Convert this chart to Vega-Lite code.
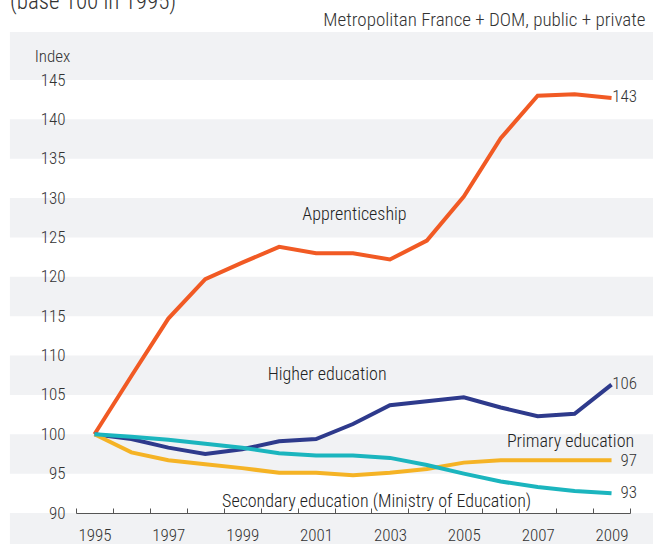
{
  "$schema": "https://vega.github.io/schema/vega-lite/v6.json",
  "width": 554,
  "height": 433,
  "autosize": {"type": "none"},
  "padding": {"left": 76, "top": 80, "right": 23, "bottom": 31},
  "background": "white",
  "config": {
    "view": {"stroke": null},
    "font": "Roboto Condensed, DejaVu Sans Condensed, Roboto, sans-serif",
    "text": {"font": "Roboto Condensed, DejaVu Sans Condensed, Roboto, sans-serif", "fontWeight": 300},
    "axis": {"labelFont": "Roboto Condensed, DejaVu Sans Condensed, Roboto, sans-serif", "titleFont": "Roboto Condensed, DejaVu Sans Condensed, Roboto, sans-serif", "labelFontWeight": 300, "titleFontWeight": 300},
    "title": {"font": "Roboto Condensed, DejaVu Sans Condensed, Roboto, sans-serif"}
  },
  "title": {
    "text": "(base 100 in 1995)",
    "anchor": "start",
    "frame": "group",
    "dx": -66,
    "dy": 22,
    "baseline": "alphabetic",
    "fontSize": 23,
    "fontWeight": 300,
    "color": "#333333",
    "offset": 0
  },
  "datasets": {
    "bands": [
      {"lo": 86, "hi": 90},
      {"lo": 95, "hi": 100},
      {"lo": 105, "hi": 110},
      {"lo": 115, "hi": 120},
      {"lo": 125, "hi": 130},
      {"lo": 135, "hi": 140},
      {"lo": 145, "hi": 151.1}
    ],
    "series": [
      {"series": "Apprenticeship", "year": 1995, "value": 100},
      {"series": "Apprenticeship", "year": 1996, "value": 107.4},
      {"series": "Apprenticeship", "year": 1997, "value": 114.7},
      {"series": "Apprenticeship", "year": 1998, "value": 119.7},
      {"series": "Apprenticeship", "year": 1999, "value": 121.8},
      {"series": "Apprenticeship", "year": 2000, "value": 123.8},
      {"series": "Apprenticeship", "year": 2001, "value": 123.0},
      {"series": "Apprenticeship", "year": 2002, "value": 123.0},
      {"series": "Apprenticeship", "year": 2003, "value": 122.2},
      {"series": "Apprenticeship", "year": 2004, "value": 124.6},
      {"series": "Apprenticeship", "year": 2005, "value": 130.2},
      {"series": "Apprenticeship", "year": 2006, "value": 137.6},
      {"series": "Apprenticeship", "year": 2007, "value": 143.0},
      {"series": "Apprenticeship", "year": 2008, "value": 143.2},
      {"series": "Apprenticeship", "year": 2009, "value": 142.7},
      {"series": "Higher education", "year": 1995, "value": 100},
      {"series": "Higher education", "year": 1996, "value": 99.4},
      {"series": "Higher education", "year": 1997, "value": 98.3},
      {"series": "Higher education", "year": 1998, "value": 97.5},
      {"series": "Higher education", "year": 1999, "value": 98.1},
      {"series": "Higher education", "year": 2000, "value": 99.1},
      {"series": "Higher education", "year": 2001, "value": 99.4},
      {"series": "Higher education", "year": 2002, "value": 101.3},
      {"series": "Higher education", "year": 2003, "value": 103.7},
      {"series": "Higher education", "year": 2004, "value": 104.2},
      {"series": "Higher education", "year": 2005, "value": 104.7},
      {"series": "Higher education", "year": 2006, "value": 103.4},
      {"series": "Higher education", "year": 2007, "value": 102.3},
      {"series": "Higher education", "year": 2008, "value": 102.6},
      {"series": "Higher education", "year": 2009, "value": 106.3},
      {"series": "Primary education", "year": 1995, "value": 100},
      {"series": "Primary education", "year": 1996, "value": 97.7},
      {"series": "Primary education", "year": 1997, "value": 96.7},
      {"series": "Primary education", "year": 1998, "value": 96.2},
      {"series": "Primary education", "year": 1999, "value": 95.7},
      {"series": "Primary education", "year": 2000, "value": 95.1},
      {"series": "Primary education", "year": 2001, "value": 95.1},
      {"series": "Primary education", "year": 2002, "value": 94.8},
      {"series": "Primary education", "year": 2003, "value": 95.1},
      {"series": "Primary education", "year": 2004, "value": 95.6},
      {"series": "Primary education", "year": 2005, "value": 96.4},
      {"series": "Primary education", "year": 2006, "value": 96.7},
      {"series": "Primary education", "year": 2007, "value": 96.7},
      {"series": "Primary education", "year": 2008, "value": 96.7},
      {"series": "Primary education", "year": 2009, "value": 96.7},
      {"series": "Secondary education", "year": 1995, "value": 100},
      {"series": "Secondary education", "year": 1996, "value": 99.7},
      {"series": "Secondary education", "year": 1997, "value": 99.3},
      {"series": "Secondary education", "year": 1998, "value": 98.8},
      {"series": "Secondary education", "year": 1999, "value": 98.3},
      {"series": "Secondary education", "year": 2000, "value": 97.6},
      {"series": "Secondary education", "year": 2001, "value": 97.3},
      {"series": "Secondary education", "year": 2002, "value": 97.3},
      {"series": "Secondary education", "year": 2003, "value": 97.0},
      {"series": "Secondary education", "year": 2004, "value": 96.1},
      {"series": "Secondary education", "year": 2005, "value": 95.0},
      {"series": "Secondary education", "year": 2006, "value": 94.0},
      {"series": "Secondary education", "year": 2007, "value": 93.3},
      {"series": "Secondary education", "year": 2008, "value": 92.8},
      {"series": "Secondary education", "year": 2009, "value": 92.5}
    ],
    "names": [
      {"label": "Apprenticeship", "year": 2002.04, "value": 127.85},
      {"label": "Higher education", "year": 2001.3, "value": 107.5},
      {"label": "Primary education", "year": 2007.89, "value": 99.0},
      {"label": "Secondary education (Ministry of Education)", "year": 2002.64, "value": 91.4}
    ],
    "ends": [
      {"label": "143", "year": 2009, "value": 142.8},
      {"label": "106", "year": 2009, "value": 106.4},
      {"label": "97", "year": 2009, "value": 96.6},
      {"label": "93", "year": 2009, "value": 92.6}
    ]
  },
  "resolve": {"axis": {"x": "independent", "y": "independent"}},
  "layer": [
    {
      "data": {"name": "bands"},
      "mark": {"type": "rect", "color": "#F1F2F4", "clip": false},
      "encoding": {
        "x": {"datum": 1992.71, "type": "quantitative", "scale": {"domain": [1994.5, 2009.5], "nice": false, "zero": false}, "axis": null},
        "x2": {"datum": 2011},
        "y": {"field": "lo", "type": "quantitative", "scale": {"domain": [90, 145], "nice": false, "zero": false}, "axis": null},
        "y2": {"field": "hi"}
      }
    },
    {
      "data": {"name": "series"},
      "mark": {"type": "line", "strokeWidth": 4, "strokeJoin": "miter"},
      "encoding": {
        "x": {
          "field": "year",
          "type": "quantitative",
          "axis": {
            "zindex": 2,
            "values": [1994.5, 1995.5, 1996.5, 1997.5, 1998.5, 1999.5, 2000.5, 2001.5, 2002.5, 2003.5, 2004.5, 2005.5, 2006.5, 2007.5, 2008.5, 2009.5],
            "labelExpr": "(datum.value + 0.5) % 2 == 1 ? format(datum.value + 0.5, 'd') : ''",
            "labelOffset": 18.47,
            "labelOverlap": false,
            "labelBound": false,
            "labelFlush": false,
            "labelFontSize": 17,
            "labelColor": "#333333",
            "labelPadding": 19,
            "tickSize": -5,
            "tickColor": "#555555",
            "domainColor": "#555555",
            "grid": false,
            "title": null
          }
        },
        "y": {
          "field": "value",
          "type": "quantitative",
          "axis": {
            "zindex": 2,
            "values": [90, 95, 100, 105, 110, 115, 120, 125, 130, 135, 140, 145],
            "domain": false,
            "ticks": false,
            "grid": false,
            "labelFontSize": 17,
            "labelColor": "#333333",
            "labelPadding": 11,
            "title": "Index",
            "titleAngle": 0,
            "titleAlign": "center",
            "titleBaseline": "middle",
            "titleX": -24,
            "titleY": -24,
            "titleFontSize": 17,
            "titleColor": "#333333"
          }
        },
        "color": {
          "field": "series",
          "type": "nominal",
          "scale": {
            "domain": ["Apprenticeship", "Higher education", "Primary education", "Secondary education"],
            "range": ["#F15A24", "#2E3A8C", "#F5B325", "#1BB5BE"]
          },
          "legend": null
        }
      }
    },
    {
      "data": {"name": "names"},
      "mark": {"type": "text", "fontSize": 18, "color": "#222222", "align": "center", "baseline": "middle"},
      "encoding": {
        "x": {
          "field": "year",
          "type": "quantitative",
          "axis": {
            "zindex": 2,
            "orient": "top",
            "domain": false,
            "ticks": false,
            "labels": false,
            "grid": false,
            "title": "Metropolitan France + DOM, public + private",
            "titleAnchor": "end",
            "titleAlign": "right",
            "titleBaseline": "middle",
            "titleX": 569,
            "titleY": -61,
            "titleFontSize": 19,
            "titleColor": "#333333"
          }
        },
        "y": {"field": "value", "type": "quantitative", "axis": null},
        "text": {"field": "label"}
      }
    },
    {
      "data": {"name": "ends"},
      "mark": {"type": "text", "fontSize": 17, "color": "#333333", "align": "right", "baseline": "middle", "dx": 25.5},
      "encoding": {
        "x": {"field": "year", "type": "quantitative", "axis": null},
        "y": {"field": "value", "type": "quantitative", "axis": null},
        "text": {"field": "label"}
      }
    }
  ]
}
